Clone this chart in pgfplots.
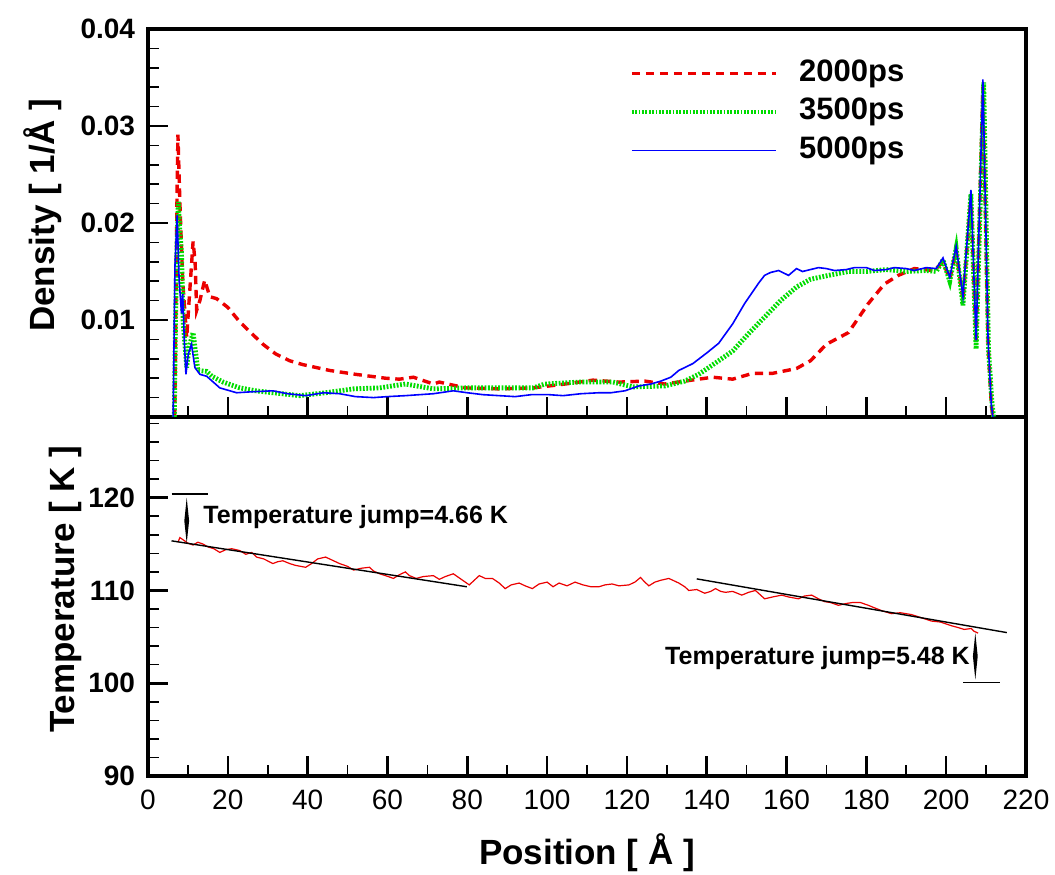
\documentclass[border=0pt]{standalone}
\usepackage{fontspec}
\setmainfont{Liberation Sans}
\usepackage{pgfplots}
\pgfplotsset{compat=1.18}
\definecolor{cRed}{RGB}{235,0,0}
\definecolor{cGreen}{RGB}{0,220,0}
\definecolor{cBlue}{RGB}{0,0,255}
\pgfplotsset{
  myaxis/.style={
    scale only axis, width=439bp, xmin=0, xmax=220,
    axis line style={line width=1.6bp},
    tick align=inside, xtick pos=bottom, ytick pos=left,
    xtick={0,20,...,220}, minor xtick={10,30,...,210},
    major tick length=10bp, minor tick length=5.5bp,
    every major tick/.append style={line width=1.3bp, black},
    every minor tick/.append style={line width=0.8bp, black},
    scaled y ticks=false, scaled x ticks=false,
    /pgf/number format/assume math mode=true,
    tick label style={inner sep=0pt, outer sep=0pt},
    xticklabel style={font=\fontsize{14bp}{16bp}\selectfont, yshift=-7bp},
    yticklabel style={font=\fontsize{14bp}{16bp}\selectfont\bfseries, xshift=-6.5bp},
    label style={font=\fontsize{17.5bp}{20bp}\selectfont\bfseries},
  }
}
\begin{document}
\begin{tikzpicture}
% bottom: temperature
\begin{axis}[myaxis, at={(0,0)}, anchor=south west, height=179.5bp,
  ymin=90, ymax=128.7, ytick={90,100,110,120}, minor ytick={92,94,...,128},
  xlabel={Position [ Å ]}, ylabel={Temperature [ K ]},
  xlabel style={at={(axis description cs:0.5,-0.2145)}, anchor=center},
  ylabel style={at={(axis description cs:-0.0945,0.52)}, anchor=center},
  clip=false]
\addplot[cRed, line width=0.6bp] coordinates {
(7.5,115.2)(8,115.7)(9,115.4)(10,115.1)(11.3,114.9)(12.5,115.2)(13.8,115.0)(15,114.7)(16.5,114.5)(18,114.1)(19.5,114.4)(21,114.5)(23,114.3)(24.5,113.9)(26,114.1)(27.2,113.6)(29,113.4)(31.3,112.9)(32.5,113.1)(33.8,113.2)(35.5,112.9)(37,112.7)(39.5,112.5)(41,112.9)(42.5,113.4)(44.5,113.6)(46,113.3)(48,112.9)(50,112.6)(51.5,112.2)(53.5,112.4)(55.5,112.5)(56.5,112.1)(58,111.8)(59.5,111.6)(61.5,111.3)(63,111.7)(64.5,112.0)(65.5,111.6)(67.2,111.3)(69,111.5)(71.5,111.6)(73,111.2)(74.5,111.5)(76.5,111.8)(78.5,111.2)(80.5,110.6)(82,111.2)(83,111.6)(84.5,111.3)(86.3,111.3)(88,110.8)(89.5,110.2)(91,110.6)(93,110.8)(94.5,110.5)(96.3,110.2)(98,110.7)(100,110.9)(101.5,110.4)(103,110.8)(105,110.5)(107,110.9)(109,110.6)(111,110.4)(113,110.4)(114.5,110.6)(116.3,110.7)(118,110.5)(120.5,110.6)(122,110.9)(123.4,111.4)(124.5,110.9)(125.5,110.5)(127,110.9)(128.5,111.1)(130.5,111.3)(132,111.0)(133,110.8)(134.5,110.4)(135.5,110.0)(137.5,110.1)(139.5,109.7)(141,109.9)(142.2,110.2)(143.5,109.9)(144.7,109.8)(146.5,109.9)(148.8,109.5)(150.5,109.8)(152.2,110.0)(153.5,109.5)(154.5,109.1)(156.5,109.3)(158.8,109.5)(160.5,109.3)(163,109.1)(164.5,109.4)(166.3,109.5)(168,109.1)(169.5,108.8)(171,108.7)(173,108.4)(175,108.6)(176.5,108.7)(178.5,108.7)(180.5,108.4)(182.2,108.1)(184,107.8)(186.3,107.5)(188.5,107.6)(191.3,107.4)(193.5,107.1)(196.3,106.7)(198.5,106.6)(201.3,106.2)(203,106.0)(204.5,105.8)(206.3,105.9)(207,105.6)(208,105.4)
};
\addplot[black, line width=0.7bp] coordinates {(5.9,115.35)(79.9,110.4)};
\addplot[black, line width=0.7bp] coordinates {(137.5,111.25)(215.2,105.46)};
% annotations
\draw[black, line width=0.7bp] (axis cs:5.9,120.4) -- (axis cs:15.1,120.4);
\fill[black] (axis cs:9.7,115.1) -- (axis cs:10.3,117.5) -- (axis cs:9.7,120.0) -- (axis cs:9.1,117.5) -- cycle;
\node[anchor=west, inner sep=0pt, font=\fontsize{12.5bp}{14bp}\selectfont\bfseries] at (axis cs:13.8,117.9) {Temperature jump=4.66 K};
\draw[black, line width=0.7bp] (axis cs:204.3,100.1) -- (axis cs:213.5,100.1);
\fill[black] (axis cs:207.3,100.4) -- (axis cs:207.9,102.9) -- (axis cs:207.3,105.4) -- (axis cs:206.7,102.9) -- cycle;
\node[anchor=east, inner sep=0pt, font=\fontsize{12.5bp}{14bp}\selectfont\bfseries] at (axis cs:206.0,102.7) {Temperature jump=5.48 K};
\end{axis}
% top: density
\begin{axis}[myaxis, at={(0,179.5bp)}, anchor=south west, height=194bp,
  ymin=0, ymax=0.04, ytick={0,0.01,0.02,0.03,0.04}, yticklabels={,0.01,0.02,0.03,0.04},
  minor ytick={0.002,0.004,0.006,0.008,0.012,0.014,0.016,0.018,0.022,0.024,0.026,0.028,0.032,0.034,0.036,0.038},
  xticklabels={},
  ylabel={Density [ 1/Å ]},
  ylabel style={at={(axis description cs:-0.1196,0.52)}, anchor=center},
  legend cell align=left,
  legend image code/.code={\draw[#1] (0bp,0bp) -- (72bp,0bp);},
  legend style={draw=none, fill=none, at={(axis description cs:0.541,0.935)}, anchor=north west,
    font=\fontsize{15.5bp}{18bp}\selectfont\bfseries, row sep=4.2bp,
    nodes={inner sep=0pt, text height=11.5bp, text depth=3.5bp}},
  ]
\addplot[cRed, line width=1.7bp, dash pattern=on 4.2bp off 2.8bp] coordinates {
(6.7,0)(7.0,0.012)(7.3,0.024)(7.5,0.0291)(8,0.022)(8.7,0.014)(9.7,0.0082)(10.3,0.012)(11.3,0.0181)(11.8,0.016)(12.2,0.011)(13,0.012)(14.2,0.0141)(15.5,0.0124)(17.2,0.0122)(20,0.0113)(23,0.0098)(26,0.0086)(28.8,0.0075)(32,0.0065)(35.5,0.0058)(38.8,0.0054)(45.5,0.0048)(52,0.0044)(59.5,0.0040)(63,0.0039)(66.5,0.0041)(71.5,0.0034)(73,0.0036)(79.5,0.0030)(88,0.0029)(96.5,0.0030)(104.5,0.0034)(111.5,0.0038)(118,0.0036)(124.5,0.0037)(129.5,0.0034)(134.5,0.0037)(141.5,0.0041)(146.5,0.0039)(151.5,0.0045)(156.5,0.0045)(162.5,0.0050)(166,0.0058)(170,0.0075)(175.5,0.0087)(180.5,0.0117)(184.5,0.0137)(188,0.0146)(192,0.0153)(197,0.0151)(199.2,0.0160)(200.9,0.0142)(202.5,0.0172)(204.2,0.0120)(206.2,0.0228)(207.5,0.0075)(209.2,0.0340)(210.5,0.0075)(211.3,0.0013)(211.7,0)
};
\addlegendentry{\hspace{10.5bp}2000ps}
\addplot[cGreen, line width=2.4bp, dash pattern=on 0.9bp off 0.8bp] coordinates {
(6.6,0)(6.9,0.010)(7.3,0.018)(7.6,0.0222)(8.0,0.019)(8.4,0.0169)(8.8,0.0099)(9.7,0.0051)(10.3,0.0072)(11.3,0.0087)(12.5,0.0048)(14.7,0.0047)(16,0.0042)(18.8,0.0036)(23,0.0030)(27,0.0027)(31.3,0.0025)(38,0.0022)(44.5,0.0025)(51.5,0.0029)(58,0.0030)(64.5,0.0034)(71.5,0.0029)(79.5,0.0030)(88,0.0030)(96.5,0.0030)(99.5,0.0034)(108,0.0036)(116.5,0.0036)(121.5,0.0031)(129.5,0.0032)(134.5,0.0037)(138,0.0044)(143,0.0058)(146.5,0.0068)(150.5,0.0086)(154.5,0.0103)(158.5,0.0120)(162.5,0.0134)(166,0.0142)(170.5,0.0146)(175.5,0.0150)(180,0.0150)(185,0.0152)(190,0.0150)(195,0.0151)(197.5,0.0150)(199.2,0.0162)(200.9,0.0140)(202.5,0.0174)(204.2,0.0115)(206.2,0.0230)(207.5,0.0070)(209.4,0.0345)(210.6,0.0070)(211.5,0.0013)(211.9,0)
};
\addlegendentry{\hspace{10.5bp}3500ps}
\addplot[cBlue, line width=0.8bp] coordinates {
(6.3,0)(6.75,0.0155)(7.3,0.0208)(7.8,0.0141)(8.4,0.0107)(8.7,0.0127)(9.1,0.0079)(9.5,0.0044)(10.1,0.0065)(10.9,0.0075)(11.75,0.0051)(13,0.0044)(14.7,0.0042)(18,0.0030)(22.2,0.0025)(26,0.0026)(31.3,0.0027)(35,0.0024)(39.5,0.0022)(44,0.0025)(48,0.0024)(52,0.0021)(56.5,0.0020)(60,0.0021)(64.5,0.0022)(68,0.0023)(71.5,0.0024)(76.5,0.0027)(80,0.0025)(84,0.0023)(88,0.0022)(92,0.0021)(96,0.0023)(100.5,0.0023)(104,0.0022)(108.5,0.0024)(113,0.0025)(116,0.0025)(119.5,0.0027)(123,0.0032)(126,0.0034)(128.5,0.0037)(131,0.0041)(133,0.0048)(136.5,0.0055)(140,0.0066)(143,0.0076)(146.5,0.0096)(149.5,0.0117)(153,0.0138)(154.5,0.0146)(156,0.0149)(158,0.0151)(160.5,0.0146)(162.5,0.0153)(164,0.0150)(166,0.0152)(168,0.0154)(170,0.0153)(172,0.0151)(175,0.0152)(177,0.0154)(180,0.0154)(182,0.0151)(185,0.0152)(187,0.0154)(190,0.0153)(192,0.0151)(195,0.0154)(197.5,0.0153)(199.2,0.0164)(200.9,0.0144)(202.5,0.0176)(204.2,0.0124)(206.2,0.0234)(207.5,0.0079)(209.2,0.0348)(210.5,0.0079)(211.3,0.0013)(211.7,0)
};
\addlegendentry{\hspace{10.5bp}5000ps}
\end{axis}
\pgfresetboundingbox
\path (-74bp,-49.5bp) rectangle (453.5bp,388bp);
\end{tikzpicture}
\end{document}
